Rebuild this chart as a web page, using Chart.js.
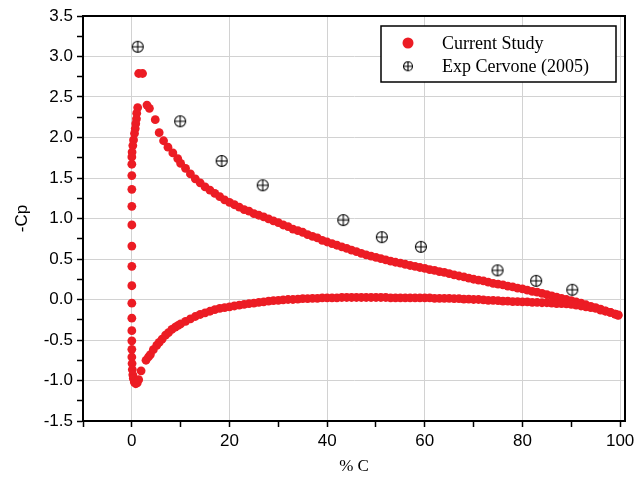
<!DOCTYPE html>
<html>
<head>
<meta charset="utf-8">
<script src="https://cdn.jsdelivr.net/npm/chart.js@4.4.0/dist/chart.umd.min.js"></script>
<style>
  html, body { margin: 0; padding: 0; background: #fff; }
</style>
</head>
<body>
<canvas id="cp-chart" width="636" height="483"></canvas>
<script>
// leading edge column (read from top to bottom)
var noseX = [1.2, 1.0, 0.95, 0.8, 0.7, 0.55, 0.35, 0.2, 0.05, 0.0, 0.0, 0.0, 0.0, 0.0, 0.0, 0.0,
  0.0, 0.0, 0.0, 0.0, 0.0, 0.0, 0.0, 0.0, 0.05, 0.1, 0.2, 0.3, 0.5, 0.8, 1.1, 1.4]
var noseY = [2.37, 2.30, 2.23, 2.17, 2.11, 2.05, 1.97, 1.90, 1.82, 1.76, 1.67, 1.53, 1.36, 1.15, 0.92, 0.66,
  0.41, 0.17, -0.045, -0.23, -0.385, -0.51, -0.615, -0.71, -0.79, -0.865, -0.93, -0.975, -1.02, -1.04, -1.03, -0.99]

// suction side
var upperX = [1.4, 2.2, 3.1, 3.6, 4.8, 5.6, 6.5, 7.4, 8.4, 9.4,
  10, 11, 12, 13, 14, 15, 16, 17, 18, 19, 20, 21, 22, 23, 24, 25, 26, 27, 28, 29,
  30, 31, 32, 33, 34, 35, 36, 37, 38, 39, 40, 41, 42, 43, 44, 45, 46, 47, 48, 49,
  50, 51, 52, 53, 54, 55, 56, 57, 58, 59, 60, 61, 62, 63, 64, 65, 66, 67, 68, 69,
  70, 71, 72, 73, 74, 75, 76, 77, 78, 79, 80, 81, 82, 83, 84, 85, 86, 87, 88, 89,
  90, 91, 92, 93, 94, 95, 96, 97, 98, 99, 99.6]
var upperY = [2.79, 2.79, 2.40, 2.36, 2.22, 2.06, 1.96, 1.88, 1.81, 1.74,
  1.68, 1.62, 1.55, 1.49, 1.44, 1.39, 1.35, 1.31, 1.27, 1.23, 1.20, 1.17, 1.14, 1.11, 1.09, 1.06, 1.04, 1.02, 0.995, 0.97,
  0.95, 0.92, 0.90, 0.87, 0.85, 0.83, 0.80, 0.78, 0.76, 0.73, 0.71, 0.69, 0.67, 0.65, 0.63, 0.61, 0.59, 0.57, 0.55, 0.535,
  0.52, 0.505, 0.49, 0.475, 0.46, 0.45, 0.435, 0.42, 0.41, 0.395, 0.385, 0.37, 0.36, 0.345, 0.335, 0.32, 0.305, 0.29, 0.28, 0.265,
  0.25, 0.24, 0.23, 0.215, 0.20, 0.19, 0.18, 0.165, 0.155, 0.14, 0.13, 0.115, 0.10, 0.09, 0.075, 0.06, 0.045, 0.03, 0.015, 0.0,
  -0.015, -0.03, -0.045, -0.065, -0.085, -0.10, -0.12, -0.14, -0.16, -0.18, -0.19]

// pressure side
var lowerX = [1.9, 2.9, 3.4, 3.8, 4.4, 5.1, 5.6, 6.2, 6.9, 7.5, 8.2, 8.9, 9.5,
  10, 11, 12, 13, 14, 15, 16, 17, 18, 19, 20, 21, 22, 23, 24, 25, 26, 27, 28, 29,
  30, 31, 32, 33, 34, 35, 36, 37, 38, 39, 40, 41, 42, 43, 44, 45, 46, 47, 48, 49,
  50, 51, 52, 53, 54, 55, 56, 57, 58, 59, 60, 61, 62, 63, 64, 65, 66, 67, 68, 69,
  70, 71, 72, 73, 74, 75, 76, 77, 78, 79, 80, 81, 82, 83, 84, 85, 86, 87, 88, 89,
  90, 91, 92, 93, 94, 95, 96, 97, 98, 99, 99.6]
var lowerY = [-0.88, -0.75, -0.71, -0.68, -0.62, -0.565, -0.53, -0.49, -0.44, -0.41, -0.37, -0.34, -0.32,
  -0.30, -0.27, -0.24, -0.21, -0.185, -0.165, -0.145, -0.125, -0.11, -0.10, -0.09, -0.08, -0.07, -0.06, -0.05, -0.045, -0.035, -0.03, -0.02, -0.015,
  -0.01, -0.005, 0.0, 0.0, 0.005, 0.01, 0.01, 0.015, 0.015, 0.02, 0.02, 0.02, 0.02, 0.025, 0.025, 0.025, 0.025, 0.025, 0.025, 0.025,
  0.025, 0.025, 0.025, 0.02, 0.02, 0.02, 0.02, 0.02, 0.02, 0.02, 0.02, 0.02, 0.015, 0.015, 0.015, 0.015, 0.01, 0.01, 0.005, 0.005,
  0.0, 0.0, -0.005, -0.01, -0.01, -0.015, -0.02, -0.02, -0.025, -0.025, -0.03, -0.03, -0.035, -0.035, -0.04, -0.04, -0.045, -0.05, -0.05, -0.055,
  -0.06, -0.07, -0.08, -0.09, -0.10, -0.11, -0.13, -0.145, -0.16, -0.18, -0.195]

// Cervone (2005) experiment
var expX = [1.2, 9.9, 18.4, 26.8, 43.3, 51.2, 59.2, 74.9, 82.8, 90.2]
var expY = [3.12, 2.20, 1.71, 1.41, 0.98, 0.77, 0.65, 0.36, 0.23, 0.12]

var red = '#ec1c24'

function toPoints(xs, ys) {
  return xs.map(function (x, i) { return { x: x, y: ys[i] } })
}

function crossedCircle(r) {
  var c = document.createElement('canvas')
  var s = Math.ceil(r * 2 + 3)
  c.width = s
  c.height = s
  var g = c.getContext('2d')
  var m = s / 2
  g.strokeStyle = '#000'
  g.lineWidth = 1.1
  g.beginPath()
  g.arc(m, m, r, 0, Math.PI * 2)
  g.moveTo(m - r, m)
  g.lineTo(m + r, m)
  g.moveTo(m, m - r)
  g.lineTo(m, m + r)
  g.stroke()
  return c
}

var expMarker = crossedCircle(5.5)
var legendMarker = crossedCircle(4.5)

var frame = {
  id: 'frame',
  afterDatasetsDraw: function (chart) {
    var a = chart.chartArea
    var ctx = chart.ctx
    ctx.save()
    ctx.strokeStyle = '#000'
    ctx.lineWidth = 2
    ctx.beginPath()
    ctx.moveTo(a.left, a.top)
    ctx.lineTo(a.right, a.top)
    ctx.lineTo(a.right, a.bottom)
    ctx.stroke()
    ctx.restore()
  }
}

var boxLegend = {
  id: 'boxLegend',
  afterDraw: function (chart) {
    var ctx = chart.ctx
    var a = chart.chartArea
    var w = 235, h = 56
    var x0 = a.right - 9 - w
    var y0 = a.top + 10
    ctx.save()
    ctx.fillStyle = '#fff'
    ctx.fillRect(x0, y0, w, h)
    ctx.strokeStyle = '#000'
    ctx.lineWidth = 1.5
    ctx.strokeRect(x0, y0, w, h)
    chart.data.datasets.forEach(function (ds, i) {
      var cy = y0 + 17 + i * 23.3
      var mx = x0 + 27
      if (i === 0) {
        ctx.fillStyle = red
        ctx.beginPath()
        ctx.arc(mx, cy, 5.5, 0, Math.PI * 2)
        ctx.fill()
      } else {
        ctx.drawImage(legendMarker, mx - legendMarker.width / 2, cy - legendMarker.height / 2)
      }
      ctx.fillStyle = '#000'
      ctx.font = '18px "Liberation Serif"'
      ctx.textBaseline = 'middle'
      ctx.fillText(ds.label, x0 + 61, cy + 1)
    })
    ctx.restore()
  }
}

var tickFont = { family: '"Liberation Sans", Arial', size: 17 }

var chart = new Chart(document.getElementById('cp-chart'), {
  type: 'scatter',
  data: {
    datasets: [
      {
        label: 'Current Study',
        data: toPoints(noseX, noseY).concat(toPoints(upperX, upperY), toPoints(lowerX, lowerY)),
        backgroundColor: red,
        borderWidth: 0,
        pointRadius: 4.4,
        order: 2
      },
      {
        label: 'Exp Cervone (2005)',
        data: toPoints(expX, expY),
        pointStyle: expMarker,
        pointRadius: 6,
        order: 1
      }
    ]
  },
  options: {
    responsive: false,
    animation: false,
    layout: { padding: { top: 16, right: 11, left: 0, bottom: 0 } },
    scales: {
      x: {
        type: 'linear',
        min: -10,
        max: 101,
        border: { color: '#000', width: 2 },
        grid: {
          color: function (ctx) { return ctx.tick && ctx.tick.value % 20 === 0 ? '#d2d2d2' : 'rgba(0,0,0,0)' },
          tickColor: '#000',
          tickLength: 6,
          tickWidth: 1.5
        },
        ticks: {
          stepSize: 10,
          includeBounds: false,
          autoSkip: false,
          maxRotation: 0,
          padding: 4,
          color: '#000',
          font: tickFont,
          callback: function (v) { return v % 20 === 0 ? String(v) : '' }
        },
        title: {
          display: true,
          text: '% C',
          color: '#000',
          font: { family: '"Liberation Serif"', size: 17 },
          padding: { top: 0, bottom: 6 }
        },
        afterFit: function (scale) {
          scale.height = 62
          scale.paddingRight = 0
          scale.paddingLeft = 0
        }
      },
      y: {
        type: 'linear',
        min: -1.5,
        max: 3.5,
        border: { color: '#000', width: 2 },
        grid: {
          color: function (ctx) { return ctx.tick && Math.round(ctx.tick.value * 4) % 2 === 0 ? '#d2d2d2' : 'rgba(0,0,0,0)' },
          tickColor: '#000',
          tickLength: 6,
          tickWidth: 1.5
        },
        ticks: {
          stepSize: 0.25,
          autoSkip: false,
          padding: 4,
          color: '#000',
          font: tickFont,
          callback: function (v) { return Math.round(v * 4) % 2 === 0 ? v.toFixed(1) : '' }
        },
        title: {
          display: true,
          text: '-Cp',
          color: '#000',
          font: tickFont,
          padding: { top: 12, bottom: 0 }
        },
        afterFit: function (scale) {
          scale.width = 83
        }
      }
    },
    plugins: {
      legend: { display: false },
      tooltip: { enabled: false }
    }
  },
  plugins: [frame, boxLegend]
})
</script>
</body>
</html>
